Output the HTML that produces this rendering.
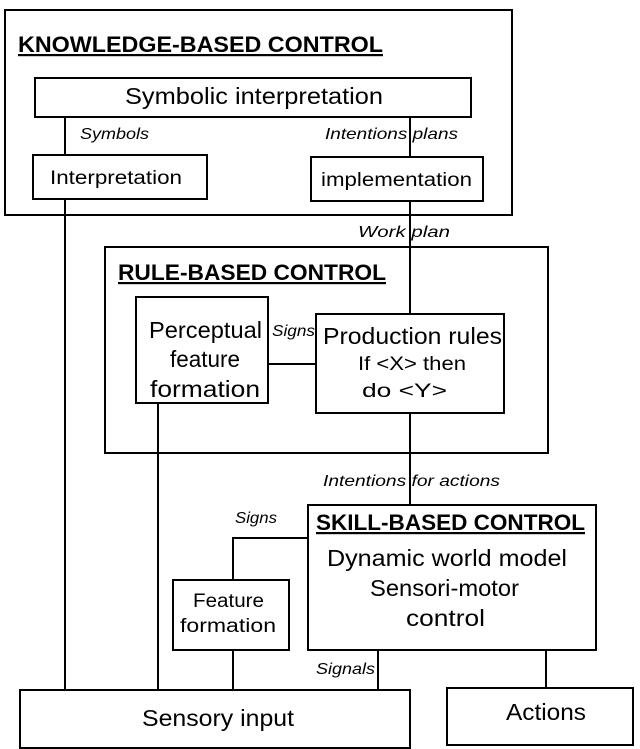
<!DOCTYPE html>
<html><head><meta charset="utf-8"><style>
html,body{margin:0;padding:0;background:#fff;}
svg{display:block;}
text{font-family:"Liberation Sans","Noto Sans CJK KR",sans-serif;fill:#000;}
.b{font-weight:bold;font-size:22px;text-decoration:underline;}
.m{font-size:23px;}
.s{font-size:19px;}
.i{font-size:16px;font-style:italic;}
</style></head><body>
<svg width="640" height="749" viewBox="0 0 640 749" xmlns="http://www.w3.org/2000/svg">
<g fill="none" stroke="#000" stroke-width="2">
<rect x="5" y="10" width="507" height="205"/>
<rect x="35" y="78" width="436" height="39"/>
<rect x="33" y="155" width="174" height="44"/>
<rect x="311" y="157" width="172" height="44"/>
<rect x="105" y="247" width="443" height="206"/>
<rect x="136" y="297" width="132" height="106"/>
<rect x="316" y="314" width="188" height="99"/>
<rect x="308" y="505" width="288" height="145"/>
<rect x="173" y="580" width="116" height="70"/>
<rect x="20" y="690" width="390" height="58"/>
<rect x="447" y="688" width="186" height="57"/>
<line x1="65" y1="117" x2="65" y2="155"/>
<line x1="410" y1="117" x2="410" y2="157"/>
<line x1="410" y1="201" x2="410" y2="314"/>
<line x1="410" y1="413" x2="410" y2="505"/>
<line x1="268" y1="364" x2="316" y2="364"/>
<line x1="65" y1="199" x2="65" y2="690"/>
<line x1="158" y1="403" x2="158" y2="690"/>
<polyline points="308,538 233,538 233,580"/>
<line x1="233" y1="650" x2="233" y2="690"/>
<line x1="378" y1="650" x2="378" y2="690"/>
<line x1="546" y1="650" x2="546" y2="688"/>
</g>
<g lengthAdjust="spacingAndGlyphs">
<text x="18" y="52" class="b" textLength="365" lengthAdjust="spacingAndGlyphs">KNOWLEDGE-BASED CONTROL</text>
<text x="125" y="104" class="m" textLength="258" lengthAdjust="spacingAndGlyphs">Symbolic interpretation</text>
<text x="80" y="139" class="i" textLength="69" lengthAdjust="spacingAndGlyphs">Symbols</text>
<text x="325" y="139" class="i" textLength="133" lengthAdjust="spacingAndGlyphs">Intentions  plans</text>
<text x="50" y="184" class="s" textLength="132" lengthAdjust="spacingAndGlyphs">Interpretation</text>
<text x="321" y="186" class="s" textLength="151" lengthAdjust="spacingAndGlyphs">implementation</text>
<text x="358" y="237" class="i" textLength="92" lengthAdjust="spacingAndGlyphs">Work  plan</text>
<text x="118" y="280" class="b" textLength="268" lengthAdjust="spacingAndGlyphs">RULE-BASED CONTROL</text>
<text x="149" y="338" class="m" textLength="113" lengthAdjust="spacingAndGlyphs">Perceptual</text>
<text x="170" y="367" class="m" textLength="70" lengthAdjust="spacingAndGlyphs">feature</text>
<text x="150" y="397" class="m" textLength="110" lengthAdjust="spacingAndGlyphs">formation</text>
<text x="272" y="336" class="i" textLength="43" lengthAdjust="spacingAndGlyphs">Signs</text>
<text x="323" y="344" class="m" textLength="179" lengthAdjust="spacingAndGlyphs">Production rules</text>
<text x="358" y="370" class="s" textLength="108" lengthAdjust="spacingAndGlyphs">If &lt;X&gt; then</text>
<text x="362" y="397" class="s" textLength="85" lengthAdjust="spacingAndGlyphs">do &lt;Y&gt;</text>
<text x="323" y="486" class="i" textLength="177" lengthAdjust="spacingAndGlyphs">Intentions for actions</text>
<text x="316" y="530" class="b" textLength="269" lengthAdjust="spacingAndGlyphs">SKILL-BASED CONTROL</text>
<text x="235" y="523" class="i" textLength="42" lengthAdjust="spacingAndGlyphs">Signs</text>
<text x="327" y="566" class="m" textLength="240" lengthAdjust="spacingAndGlyphs">Dynamic world model</text>
<text x="370" y="596" class="m" textLength="149" lengthAdjust="spacingAndGlyphs">Sensori-motor</text>
<text x="406" y="626" class="m" textLength="79" lengthAdjust="spacingAndGlyphs">control</text>
<text x="193" y="607" class="s" textLength="71" lengthAdjust="spacingAndGlyphs">Feature</text>
<text x="180" y="632" class="s" textLength="96" lengthAdjust="spacingAndGlyphs">formation</text>
<text x="316" y="674" class="i" textLength="59" lengthAdjust="spacingAndGlyphs">Signals</text>
<text x="142" y="726" class="m" textLength="152" lengthAdjust="spacingAndGlyphs">Sensory input</text>
<text x="506" y="720" class="m" textLength="80" lengthAdjust="spacingAndGlyphs">Actions</text>
</g>
</svg>
</body></html>
